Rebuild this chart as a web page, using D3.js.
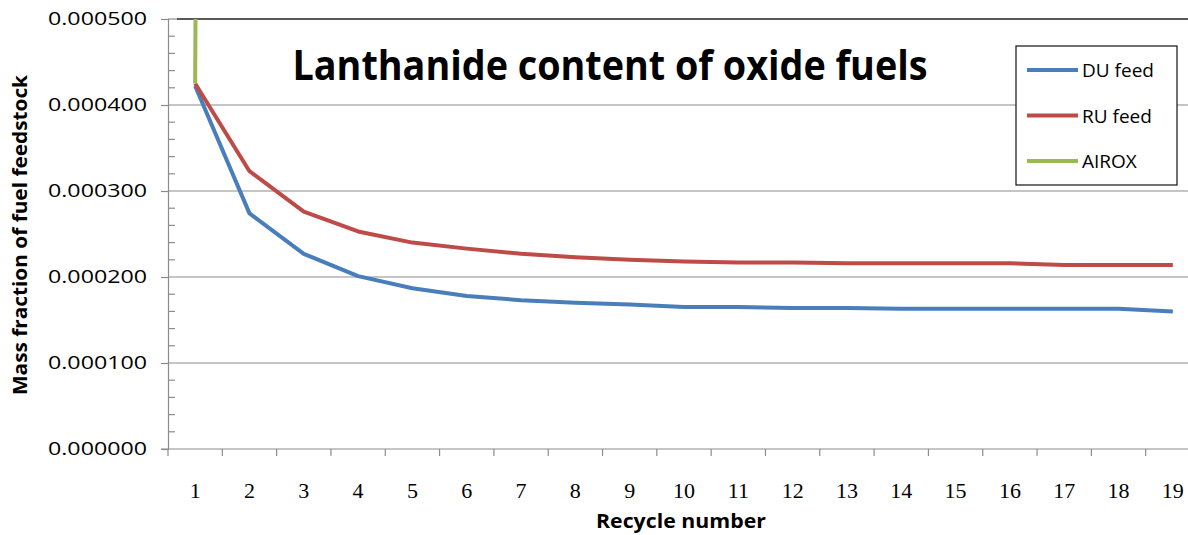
<!DOCTYPE html>
<html>
<head>
<meta charset="utf-8">
<script src="https://cdn.jsdelivr.net/npm/d3@7"></script>
<style>
  body { margin: 0; background: #fff; }
  svg { display: block; }
</style>
</head>
<body>
<div id="chart"></div>
<script>
// Data
var recycles = d3.range(1, 20);
var duFeed = [0.000422, 0.000274, 0.000227, 0.000201, 0.000187, 0.000178, 0.000173, 0.000170, 0.000168,
              0.000165, 0.000165, 0.000164, 0.000164, 0.000163, 0.000163, 0.000163, 0.000163, 0.000163, 0.000160];
var ruFeed = [0.000425, 0.000323, 0.000276, 0.000253, 0.000240, 0.000233, 0.000227, 0.000223, 0.000220,
              0.000218, 0.000217, 0.000217, 0.000216, 0.000216, 0.000216, 0.000216, 0.000214, 0.000214, 0.000214];
var airox = [0.000425, 0.0125];
var yTicks = [0, 0.0001, 0.0002, 0.0003, 0.0004, 0.0005];
var seriesNames = ["DU feed", "RU feed", "AIROX"];
var seriesColors = ["#4a7ebb", "#be4b48", "#98b954"];

///////////////////////////// Set up the SVG //////////////////////////////
var width = 1188, height = 535;
var plotLeft = 168, plotRight = 1200, plotTop = 19, plotBottom = 449;

var svg = d3.select("#chart").append("svg")
    .attr("width", width)
    .attr("height", height);

var x = d3.scaleBand()
    .domain(recycles)
    .range([plotLeft, plotRight]);

var y = d3.scaleLinear()
    .domain([0, 0.0005])
    .range([plotBottom, plotTop]);

svg.append("defs").append("clipPath")
    .attr("id", "plot-clip")
    .append("rect")
    .attr("x", plotLeft).attr("y", plotTop)
    .attr("width", plotRight - plotLeft).attr("height", plotBottom - plotTop);

////////////////////////////// Grid lines //////////////////////////////
svg.append("g")
    .selectAll("line")
    .data(yTicks.filter(d => d > 0 && d < 0.0005))
    .enter()
    .append("line")
        .attr("x1", plotLeft).attr("x2", plotRight)
        .attr("y1", d => y(d)).attr("y2", d => y(d))
        .attr("stroke", "#8c8c8c")
        .attr("stroke-width", 1.2);

// top border of plot area
svg.append("line")
    .attr("x1", plotLeft).attr("x2", 177)
    .attr("y1", y(0.0005)).attr("y2", y(0.0005))
    .attr("stroke", "#8c8c8c").attr("stroke-width", 1.2);
svg.append("line")
    .attr("x1", 177).attr("x2", plotRight)
    .attr("y1", y(0.0005)).attr("y2", y(0.0005))
    .attr("stroke", "#222").attr("stroke-width", 1.4);

//////////////////////////////// Y axis ////////////////////////////////
var yAxis = svg.append("g")
    .attr("transform", "translate(" + plotLeft + ",0)")
    .call(d3.axisLeft(y)
        .tickValues(yTicks)
        .tickSize(7)
        .tickPadding(14)
        .tickFormat(d3.format(".6f")));

yAxis.select(".domain").attr("stroke", "#8c8c8c").attr("stroke-width", 1.2);
yAxis.selectAll(".tick line").attr("stroke", "#8c8c8c").attr("stroke-width", 1.2);
yAxis.selectAll(".tick text")
    .attr("font-family", "'Open Sans', sans-serif")
    .attr("font-size", 18)
    .attr("fill", "#000")
    .attr("textLength", 99)
    .attr("lengthAdjust", "spacingAndGlyphs");

// minor ticks, inside
var minor = d3.range(0, 0.0005, 0.00002).filter((d, i) => i % 5 != 0);
svg.append("g")
    .selectAll("line")
    .data(minor)
    .enter()
    .append("line")
        .attr("x1", plotLeft).attr("x2", plotLeft + 7)
        .attr("y1", d => y(d)).attr("y2", d => y(d))
        .attr("stroke", "#8c8c8c")
        .attr("stroke-width", 1.2);

//////////////////////////////// X axis ////////////////////////////////
var xAxis = svg.append("g");

xAxis.append("line")
    .attr("x1", plotLeft - 7).attr("x2", plotRight)
    .attr("y1", plotBottom).attr("y2", plotBottom)
    .attr("stroke", "#8c8c8c").attr("stroke-width", 1.2);

xAxis.selectAll(".xtick")
    .data(recycles)
    .enter()
    .append("line")
        .attr("class", "xtick")
        .attr("x1", d => x(d)).attr("x2", d => x(d))
        .attr("y1", plotBottom).attr("y2", plotBottom + 7)
        .attr("stroke", "#8c8c8c").attr("stroke-width", 1.2);

xAxis.selectAll("text")
    .data(recycles)
    .enter()
    .append("text")
        .attr("x", d => x(d) + x.bandwidth() / 2)
        .attr("y", 498)
        .attr("text-anchor", "middle")
        .attr("font-family", "'Liberation Serif', serif")
        .attr("font-size", 22)
        .attr("fill", "#000")
        .text(d => d);

//////////////////////////////// Titles ////////////////////////////////
svg.append("text")
    .attr("x", 610)
    .attr("y", 80)
    .attr("text-anchor", "middle")
    .attr("font-family", "'Open Sans', sans-serif")
    .attr("font-weight", "bold")
    .attr("font-size", 41)
    .attr("textLength", 635)
    .attr("lengthAdjust", "spacingAndGlyphs")
    .text("Lanthanide content of oxide fuels");

svg.append("text")
    .attr("x", 681)
    .attr("y", 528)
    .attr("text-anchor", "middle")
    .attr("font-family", "'Open Sans', sans-serif")
    .attr("font-weight", "bold")
    .attr("font-size", 19)
    .attr("textLength", 170)
    .attr("lengthAdjust", "spacingAndGlyphs")
    .text("Recycle number");

svg.append("text")
    .attr("transform", "translate(27,235) rotate(-90)")
    .attr("text-anchor", "middle")
    .attr("font-family", "'Open Sans', sans-serif")
    .attr("font-weight", "bold")
    .attr("font-size", 19)
    .attr("textLength", 320)
    .attr("lengthAdjust", "spacingAndGlyphs")
    .text("Mass fraction of fuel feedstock");

//////////////////////////////// Lines ////////////////////////////////
var line = d3.line()
    .x((d, i) => x(recycles[i]) + x.bandwidth() / 2)
    .y(d => y(d));

var plot = svg.append("g").attr("clip-path", "url(#plot-clip)");

[duFeed, ruFeed, airox].forEach(function(values, i) {
    plot.append("path")
        .datum(values)
        .attr("d", line)
        .attr("fill", "none")
        .attr("stroke", seriesColors[i])
        .attr("stroke-width", 4)
        .attr("stroke-linejoin", "round");
});

//////////////////////////////// Legend ////////////////////////////////
var legend = svg.append("g");

legend.append("rect")
    .attr("x", 1016).attr("y", 46)
    .attr("width", 161).attr("height", 139)
    .attr("fill", "#fff")
    .attr("stroke", "#111")
    .attr("stroke-width", 1.2);

var entries = legend.selectAll(".entry")
    .data(seriesNames)
    .enter()
    .append("g")
        .attr("class", "entry")
        .attr("transform", (d, i) => "translate(0," + (70 + i * 45.5) + ")");

entries.append("line")
    .attr("x1", 1027).attr("x2", 1078)
    .attr("stroke", (d, i) => seriesColors[i])
    .attr("stroke-width", 4);

entries.append("text")
    .attr("x", 1082)
    .attr("y", 7)
    .attr("font-family", "'Open Sans', sans-serif")
    .attr("font-size", 19)
    .attr("fill", "#000")
    .text(d => d);
</script>
</body>
</html>
